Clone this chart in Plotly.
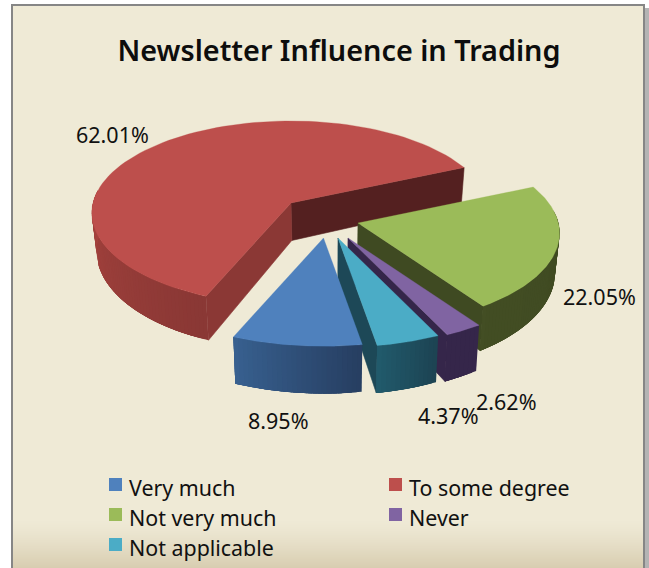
import numpy as np
import plotly.graph_objects as go

TITLE = "Newsletter Influence in Trading"
categories = ["Very much", "To some degree", "Not very much", "Never", "Not applicable"]
values = [8.95, 62.01, 22.05, 2.62, 4.37]
top_colors = ["#4F81BD", "#BD4F4C", "#9BBB59", "#8064A2", "#4BACC6"]

FIRST_SLICE_ANGLE = 170.5
A, B, K = 198.0, 91.0, 0.109
FONT = "Noto Sans"

# per-slice explosion as drawn: apex location and local perspective scale
style = {
    "Very much":      dict(apex=(323.5, 238), s=1.06, wall=("#273F62", "#38608F"), cuts=[]),
    "To some degree": dict(apex=(291, 203), s=1.0, wall=("#8A3835", "#A8443F"),
                           cuts=[("end", "#542020"), ("start", "#8B3835")]),
    "Not very much":  dict(apex=(358, 223), s=1.012, wall=("#3F4A22", "#434E24"), cuts=[("end", "#3F4A22")]),
    "Never":          dict(apex=(348, 238), s=1.06, wall=("#35264A", "#35264A"), cuts=[("end", "#35264A")]),
    "Not applicable": dict(apex=(338, 238), s=1.07, wall=("#1D4453", "#215A6B"), cuts=[("end", "#1D4857")]),
}
draw_order = ["To some degree", "Not very much", "Never", "Not applicable", "Very much"]
label_pos = {"Very much": (278, 420), "To some degree": (112, 134), "Not very much": (599, 296),
             "Never": (506, 401), "Not applicable": (448, 415)}
legend_pos = {"Very much": (109, 484.5), "To some degree": (389, 484.5), "Not very much": (109, 514.5),
              "Never": (389, 514.5), "Not applicable": (109, 544.5)}


def rim(apex, s, deg):
    t = np.radians(deg)
    u, v = np.sin(t), np.cos(t)
    w = 1 + K * v
    return apex[0] + A * s * u / w, apex[1] - B * s * v / w


def drop(x, y):
    return x - (x - 330) * 0.02, y + 35 + (y - 167) * 0.069


def hex2rgb(h):
    return np.array([int(h[i:i + 2], 16) for i in (1, 3, 5)], float)


def mix(a, b, f):
    c = hex2rgb(a) * (1 - f) + hex2rgb(b) * f
    return "rgb(%d,%d,%d)" % tuple(c)


def poly(xs, ys, color, edge=0.6):
    xs, ys = list(xs), list(ys)
    return go.Scatter(x=xs + xs[:1], y=ys + ys[:1], mode="lines", fill="toself", fillcolor=color,
                      line=dict(color=color, width=edge), hoverinfo="skip", showlegend=False)


edges = FIRST_SLICE_ANGLE + np.concatenate([[0], np.cumsum(values)]) / sum(values) * 360
span = {}
for i, c in enumerate(categories):
    a0, a1 = edges[i], edges[i + 1]
    if a0 >= 360:
        a0, a1 = a0 - 360, a1 - 360
    span[c] = (a0, a1)

fig = go.Figure()
for c in draw_order:
    st = style[c]
    a0, a1 = span[c]
    ap = st["apex"]
    # radial cut faces
    for which, col in st["cuts"]:
        deg = a1 if which == "end" else a0
        p = rim(ap, st["s"], deg)
        b0, b1 = drop(*ap), drop(*p)
        fig.add_trace(poly([ap[0], p[0], b1[0], b0[0]], [ap[1], p[1], b1[1], b0[1]], col))
    # outer rim, front half only
    lo = max(a0, 82)
    hi = min(a1, 278)
    if hi > lo:
        n = max(3, int((hi - lo) / 1.2))
        grid = np.linspace(lo, hi, n + 1)
        for j in range(n):
            # each strip runs on to the far end, so the next one overpaints it and leaves no seam
            sub = np.linspace(grid[j], min(grid[j] + 6, hi), 7)
            pts = [rim(ap, st["s"], d) for d in sub]
            bot = [drop(*q) for q in pts][::-1]
            fig.add_trace(poly([q[0] for q in pts + bot], [q[1] for q in pts + bot],
                               mix(st["wall"][0], st["wall"][1], j / max(1, n - 1)), 0))
    # top face
    deg = np.linspace(a0, a1, 90)
    pts = [rim(ap, st["s"], d) for d in deg]
    fig.add_trace(poly([ap[0]] + [q[0] for q in pts], [ap[1]] + [q[1] for q in pts],
                       top_colors[categories.index(c)], 0.3))

# legend swatches
for i, c in enumerate(categories):
    x, y = legend_pos[c]
    fig.add_trace(go.Scatter(x=[x + 6.5], y=[y], mode="markers", name=c, showlegend=False, hoverinfo="skip",
                             marker=dict(symbol="square", size=13, color=top_colors[i], line=dict(width=0))))

ann = []
for i, c in enumerate(categories):
    x, y = label_pos[c]
    ann.append(dict(x=x, y=y, xref="x", yref="y", text=f"{values[i]:.2f}%", showarrow=False,
                    font=dict(family=FONT, size=21.5, color="#111111"), xanchor="center", yanchor="middle"))
    lx, ly = legend_pos[c]
    ann.append(dict(x=lx + 18, y=ly + 3, xref="x", yref="y", text=c, showarrow=False,
                    font=dict(family=FONT, size=21.4, color="#111111"), xanchor="left", yanchor="middle"))

# chart-area frame, drop shadow and the sand gradient at the foot
shapes = [
    dict(type="rect", x0=15, x1=649, y0=8, y1=568, fillcolor="#B4B4B4", line_width=0, layer="below"),
    dict(type="rect", x0=12, x1=644, y0=5, y1=568, fillcolor="#EFEAD6", line=dict(color="#868686", width=2), layer="below"),
]
top, bot = 520, 568
for i in range(top, bot):
    f = ((i - top) / (bot - top)) ** 1.3
    shapes.append(dict(type="rect", x0=13, x1=643, y0=i, y1=i + 1.2, fillcolor=mix("#EFEAD6", "#D8CDB0", f),
                       line_width=0, layer="below"))

fig.update_layout(
    width=649, height=568, margin=dict(l=0, r=0, t=0, b=0), autosize=False,
    paper_bgcolor="#FFFFFF", plot_bgcolor="rgba(0,0,0,0)", showlegend=False,
    xaxis=dict(range=[0, 649], visible=False, fixedrange=True),
    yaxis=dict(range=[568, 0], visible=False, fixedrange=True),
    title=dict(text=TITLE, x=339 / 649, xref="paper", xanchor="center", y=1 - 51 / 568, yref="paper",
               yanchor="middle", font=dict(family=FONT, size=28.8, color="#0D0D0D", weight=600)),
    annotations=ann, shapes=shapes,
)
fig.write_html("out.html", config=dict(displayModeBar=False),
               post_script="document.body.style.margin='0';document.body.style.overflow='hidden';")
